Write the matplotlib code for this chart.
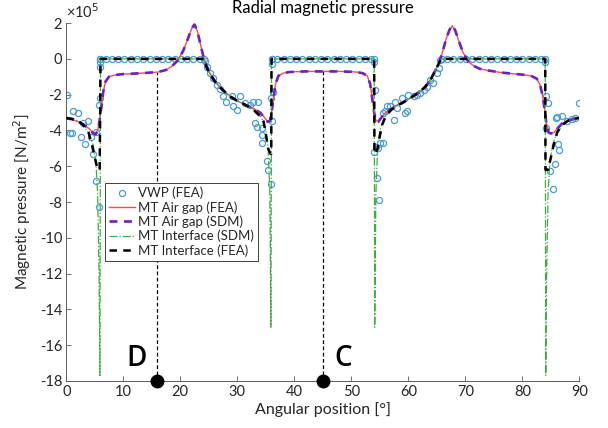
import matplotlib
matplotlib.use("Agg")
import matplotlib.pyplot as plt

plt.rcParams['font.family'] = ['Lato', 'DejaVu Sans']
plt.rcParams['axes.unicode_minus'] = False

# ---------------- data (pressure in units of 1e5 N/m^2) ----------------
# MT Air gap (FEA)
ag_fea_x = [0, 1, 2, 3, 4, 4.6, 5.1, 5.5, 5.8, 6.1, 6.5, 6.9, 7.5, 8.5, 10, 12, 14, 16,
            17.5, 18.5, 19.5, 20.5, 21.3, 22.0, 22.5, 23.0, 23.5, 24.0, 24.5, 25.2, 26,
            27, 28, 29, 30, 31, 32, 33, 34, 34.7, 35.3, 35.7, 36.0, 36.3, 36.7, 37.2,
            38, 39, 40, 42, 45, 48, 50, 51, 52, 52.8, 53.3, 53.7, 54.0, 54.3, 54.7,
            55.3, 56, 57, 58, 59, 60, 61, 62, 63, 64, 64.8, 65.5, 66.0, 66.6, 67.2,
            67.7, 68.2, 68.9, 69.6, 70.5, 71.5, 72.5, 74, 76, 78, 80, 81.5, 82.5, 83.1,
            83.5, 83.9, 84.2, 84.6, 85.0, 85.6, 86.2, 87, 88, 89, 90]
ag_fea_y = [-3.35, -3.38, -3.5, -3.65, -3.9, -4.1, -4.2, -4.0, -3.5, -2.8, -1.8, -1.25,
            -1.0, -0.9, -0.85, -0.82, -0.78, -0.74, -0.62, -0.42, -0.1, 0.45, 1.1, 1.7,
            1.9, 1.55, 0.85, 0.2, -0.3, -0.8, -1.2, -1.6, -1.9, -2.15, -2.35, -2.5,
            -2.65, -2.8, -3.0, -3.25, -3.5, -3.45, -3.0, -2.3, -1.4, -0.95, -0.8, -0.74,
            -0.72, -0.7, -0.7, -0.7, -0.72, -0.74, -0.8, -0.95, -1.4, -2.3, -3.0, -3.45,
            -3.5, -3.25, -3.0, -2.8, -2.6, -2.45, -2.25, -2.05, -1.85, -1.55, -1.1,
            -0.6, -0.1, 0.4, 1.1, 1.6, 1.85, 1.6, 0.95, 0.35, -0.15, -0.4, -0.55, -0.65,
            -0.75, -0.82, -0.88, -0.95, -1.1, -1.45, -2.0, -2.8, -3.6, -4.1, -4.15,
            -4.1, -3.85, -3.6, -3.45, -3.35, -3.3]

# MT Air gap (SDM)
ag_sdm_x = ag_fea_x
ag_sdm_y = [-3.33, -3.37, -3.5, -3.66, -3.92, -4.12, -4.22, -4.05, -3.55, -2.8, -1.8,
            -1.25, -1.0, -0.9, -0.85, -0.82, -0.78, -0.74, -0.62, -0.42, -0.1, 0.45,
            1.1, 1.72, 1.92, 1.55, 0.85, 0.2, -0.3, -0.8, -1.2, -1.6, -1.9, -2.15,
            -2.35, -2.5, -2.65, -2.8, -3.0, -3.27, -3.52, -3.47, -3.0, -2.3, -1.4,
            -0.95, -0.8, -0.74, -0.72, -0.7, -0.7, -0.7, -0.72, -0.74, -0.8, -0.95,
            -1.4, -2.3, -3.0, -3.47, -3.52, -3.27, -3.0, -2.8, -2.6, -2.45, -2.25,
            -2.05, -1.85, -1.55, -1.1, -0.6, -0.1, 0.4, 1.1, 1.62, 1.87, 1.6, 0.95,
            0.35, -0.15, -0.4, -0.55, -0.65, -0.75, -0.82, -0.88, -0.95, -1.1, -1.45,
            -2.0, -2.8, -3.62, -4.12, -4.17, -4.12, -3.87, -3.6, -3.45, -3.35, -3.3]

# MT Interface (FEA)
if_fea_x = [0, 1, 2, 3, 3.9, 4.5, 5.0, 5.5, 5.85, 5.95, 6.0, 24.2, 24.5, 25.2, 26, 27,
            28, 29, 30, 31, 32, 33, 34, 34.6, 35.0, 35.4, 35.8, 35.95, 36.0, 54.0,
            54.05, 54.2, 54.6, 55.0, 55.4, 56, 57, 58, 59, 60, 61, 62, 63, 64, 64.8,
            65.5, 65.8, 84.0, 84.05, 84.15, 84.5, 85.0, 85.5, 86.1, 87, 88, 89, 90]
if_fea_y = [-3.3, -3.35, -3.45, -3.7, -4.1, -4.8, -5.5, -6.2, -6.2, -3.0, 0, 0, -0.4,
            -0.85, -1.25, -1.6, -1.9, -2.15, -2.35, -2.5, -2.7, -2.9, -3.2, -3.5, -4.2,
            -5.0, -5.3, -5.3, 0, 0, -5.3, -5.3, -5.0, -4.3, -3.7, -3.2, -2.85, -2.62,
            -2.45, -2.25, -2.05, -1.85, -1.55, -1.1, -0.6, -0.15, 0, 0, -6.2, -6.2,
            -6.2, -5.5, -4.8, -4.1, -3.7, -3.45, -3.35, -3.3]

# MT Interface (SDM)
if_sdm_x = [0, 1, 2, 3, 4, 4.7, 5.2, 5.5, 5.75, 5.9, 6.0, 24.2, 24.5, 25.2, 26, 27, 28,
            29, 30, 31, 32, 33, 34, 34.6, 35.0, 35.4, 35.7, 35.9, 36.0, 54.0, 54.1,
            54.3, 54.6, 55.0, 55.4, 56, 57, 58, 59, 60, 61, 62, 63, 64, 64.8, 65.5,
            65.8, 84.0, 84.1, 84.25, 84.5, 84.8, 85.3, 86, 87, 88, 89, 90]
if_sdm_y = [-3.3, -3.35, -3.45, -3.7, -4.2, -4.8, -5.8, -7.5, -12.0, -17.7, 0, 0, -0.4,
            -0.85, -1.25, -1.6, -1.9, -2.15, -2.35, -2.5, -2.7, -2.9, -3.2, -3.5, -4.0,
            -5.0, -7.5, -15.0, 0, 0, -15.0, -7.5, -5.0, -4.0, -3.6, -3.2, -2.85, -2.62,
            -2.45, -2.25, -2.05, -1.85, -1.55, -1.1, -0.6, -0.15, 0, 0, -17.7, -12.0,
            -7.5, -5.8, -4.8, -4.2, -3.7, -3.45, -3.35, -3.3]

# VWP (FEA) samples
vwp_x = [0.1, 0.65, 0.95, 1.2, 2.1, 2.6, 3.0, 3.3, 3.75, 4.3, 4.7, 5.15, 5.3, 5.7, 5.75,
         5.9, 6.0, 6.0, 6.0,
         6.0, 6.9, 8.0, 9.1, 10.2, 11.3, 12.4, 13.5, 14.6, 15.7, 16.8, 17.9, 19.0,
         20.1, 21.2, 22.3, 23.4, 24.2, 24.3,
         24.6, 25.2, 25.8, 26.4, 27.0, 27.5, 28.1, 29.0, 29.3, 29.9, 30.5, 31.4, 32.2,
         32.8, 33.7, 33.1, 33.4, 34.3, 34.3, 34.4, 35.2, 35.3, 35.9, 36.1, 35.9, 36.2,
         36.0, 36.0,
         36.1, 37.0, 38.1, 39.2, 40.3, 41.4, 42.5, 43.6, 44.7, 45.8, 46.9, 48.0, 49.1,
         50.2, 51.3, 52.4, 53.5, 54.0, 54.0,
         54.2, 53.9, 54.3, 54.7, 55.0, 55.5, 54.5, 54.9, 55.6, 56.2, 55.9, 56.8, 57.4,
         57.7, 58.0, 58.8, 59.4, 59.7, 60.0, 60.9, 61.5, 62.1, 62.7, 63.2, 63.8, 64.4,
         65.0, 65.3, 65.6,
         65.9, 66.8, 67.9, 69.0, 70.1, 71.2, 72.3, 73.4, 74.5, 75.6, 76.7, 77.8, 78.9,
         80.0, 81.1, 82.2, 83.3, 84.0, 84.05,
         84.2, 84.5, 84.2, 84.9, 85.3, 85.7, 86.5, 86.3, 86.0, 85.9, 87.0, 87.8, 88.7,
         89.2, 90.0]
vwp_y = [-2.0, -4.15, -4.15, -2.94, -3.04, -4.34, -3.6, -4.77, -3.46, -4.34, -5.33,
         -6.8, -4.06, -8.3, -2.57, -2.2, -0.43, -0.15, 0,
         0, 0, 0, 0, 0, 0, 0, 0, 0, 0, 0, 0, 0, 0, 0, 0, 0, 0, -0.12,
         -0.43, -0.8, -1.08, -1.45, -1.7, -2.1, -2.39, -2.1, -2.66, -2.85, -2.1, -2.48,
         -2.57, -2.42, -2.39, -3.6, -3.78, -3.87, -4.25, -4.68, -5.68, -6.2, -6.98,
         -3.45, -2.16, -1.83, -0.3, 0,
         0, 0, 0, 0, 0, 0, 0, 0, 0, 0, 0, 0, 0, 0, 0, 0, 0, 0, -0.15,
         -1.73, -5.18, -4.94, -5.0, -4.7, -4.7, -6.63, -7.88, -3.04, -2.66, -2.94,
         -2.66, -3.41, -2.39, -2.76, -2.2, -3.04, -2.94, -2.01, -2.1, -2.01, -1.92,
         -1.73, -1.55, -1.17, -1.36, -0.8, -0.52, -0.06,
         0, 0, 0, 0, 0, 0, 0, 0, 0, 0, 0, 0, 0, 0, 0, 0, 0, 0, -0.2,
         -2.1, -2.48, -3.87, -6.26, -7.28, -5.87, -5.08, -4.77, -3.26, -3.32, -3.19,
         -3.46, -3.35, -3.32, -2.48]

# Reference positions D and C
ref_labels = ["D", "C"]
ref_x = [16, 45]
ref_top = [-0.76, -0.7]

x_ticks = [0, 10, 20, 30, 40, 50, 60, 70, 80, 90]
y_ticks = [-18, -16, -14, -12, -10, -8, -6, -4, -2, 0, 2]

# ---------------- plot ----------------
fig = plt.figure(figsize=(6.08, 4.28), dpi=100)
ax = fig.add_axes([0.109, 0.110, 0.844, 0.836])

axis_col = '#5a5a5a'
text_col = '#262626'

ax.plot(vwp_x, vwp_y, 'o', ls='none', mfc='none', mec='#4a9bd8', ms=4.4, mew=0.9,
        label='VWP (FEA)', zorder=2)
ax.plot(ag_fea_x, ag_fea_y, '-', color='#ff4a4a', lw=1.0, label='MT Air gap (FEA)', zorder=3)
ax.plot(ag_sdm_x, ag_sdm_y, '--', color='#6a22c8', lw=1.9, dashes=(3, 2.5),
        label='MT Air gap (SDM)', zorder=4)
ax.plot(if_sdm_x, if_sdm_y, '-.', color='#3fae3f', lw=0.9, label='MT Interface (SDM)', zorder=5)
ax.plot(if_fea_x, if_fea_y, '--', color='black', lw=1.8, dashes=(3, 2.5),
        label='MT Interface (FEA)', zorder=6)

for lab, xv, yt in zip(ref_labels, ref_x, ref_top):
    ax.plot([xv, xv], [-18, yt], '--', color='black', lw=0.9, dashes=(3, 2), zorder=1)
    ax.plot([xv], [-18], 'o', color='black', ms=9, clip_on=False, zorder=10)
ax.text(12.4, -16.75, ref_labels[0], fontsize=20, family=['Open Sans', 'DejaVu Sans'],
        fontweight='semibold', ha='center', va='center', color='black')
ax.text(48.5, -16.75, ref_labels[1], fontsize=20, family=['Open Sans', 'DejaVu Sans'],
        fontweight='semibold', ha='center', va='center', color='black')

ax.set_xlim(0, 90)
ax.set_ylim(-18, 2)
ax.set_xticks(x_ticks)
ax.set_yticks(y_ticks)
ax.tick_params(direction='in', length=3.5, width=0.6, colors=axis_col,
               labelcolor=text_col, labelsize=10.5, pad=3)
for s in ['top', 'right']:
    ax.spines[s].set_visible(False)
for s in ['left', 'bottom']:
    ax.spines[s].set_color(axis_col)
    ax.spines[s].set_linewidth(0.7)

ax.set_xlabel('Angular position [°]', fontsize=11.5, color=text_col, labelpad=2)
ax.set_ylabel('Magnetic pressure [N/m$^2$]', fontsize=11, color=text_col, labelpad=5)
ax.set_title('Radial magnetic pressure', fontsize=12, color='black', pad=7)
ax.text(0.0, 1.005, '×10$^{5}$', transform=ax.transAxes, fontsize=10.5, color=text_col,
        ha='left', va='bottom')

leg = ax.legend(loc='upper left', bbox_to_anchor=(0.075, 0.554), borderaxespad=0,
                fontsize=9.5, fancybox=False, framealpha=1, edgecolor='#404040',
                labelspacing=0.14, handlelength=2.0, handletextpad=0.25,
                borderpad=0.3, labelcolor=text_col)
leg.get_frame().set_linewidth(0.7)

fig.savefig('out.png', dpi=100)
